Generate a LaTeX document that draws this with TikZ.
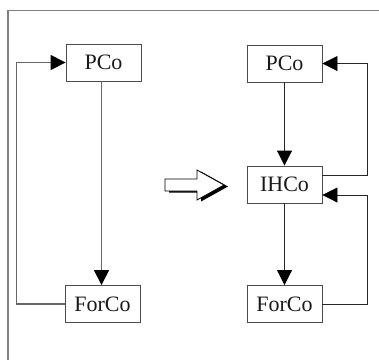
\documentclass[tikz,border=0pt]{standalone}
\usepackage{fontspec}
\setmainfont{Liberation Serif}
\usetikzlibrary{arrows.meta}
\begin{document}
\begin{tikzpicture}[x=1pt,y=-1pt,
  box/.style={draw=black!70, line width=0.9pt, minimum width=75pt, minimum height=37pt, inner sep=0pt, font=\fontsize{22}{24}\selectfont, text=black!90},
  lline/.style={draw=black!60, line width=1.5pt},
  rline/.style={draw=black!85, line width=0.9pt},
  tip/.style={-{Triangle[length=15pt,width=15pt,color=black,fill=black]}},
  frame/.style={draw=black!50, line width=1.2pt}]
\useasboundingbox (0,0) rectangle (379,360);
% frame
\coordinate (ftr) at (379,10.5);
\coordinate (ftl) at (8,10.5);
\coordinate (fbl) at (8,360);
\draw[frame] (ftr) -- (ftl) -- (fbl);
% left diagram
\node[box] (pcoL) at (103.5,62.5) {PCo};
\node[box] (forL) at (102.5,304) {ForCo};
\draw[lline,tip] ([xshift=-2pt]pcoL.south) -- ([xshift=-2pt]pcoL.south |- forL.north);
\draw[lline,tip] (forL.west) -- ++(-48,0) |- (pcoL.west);
% block arrow
\coordinate (ba) at (165,185);
\fill[black] ([shift={(4,1.5)}]ba) -- ++(0,-6) -- ++(32,0) -- ++(0,-9) -- ++(27,15) -- ++(-27,15) -- ++(0,-9) -- ++(-32,0) -- cycle;
\draw[black, fill=white, line width=0.8pt] (ba) -- ++(0,-6) -- ++(32,0) -- ++(0,-9) -- ++(27,15) -- ++(-27,15) -- ++(0,-9) -- ++(-32,0) -- cycle;
% right diagram
\node[box] (pcoR) at (284.5,63.5) {PCo};
\node[box] (ihco) at (284.5,184.5) {IHCo};
\node[box] (forR) at (284.5,304) {ForCo};
\draw[rline,tip] (pcoR) -- (ihco);
\draw[rline,tip] (ihco) -- (forR);
\draw[rline,tip] ([yshift=9.5pt]ihco.east) -- ++(45,0) |- (pcoR.east);
\draw[rline,tip] (forR.east) -- ++(45,0) |- ([yshift=-10.5pt]ihco.east);
\end{tikzpicture}
\end{document}
